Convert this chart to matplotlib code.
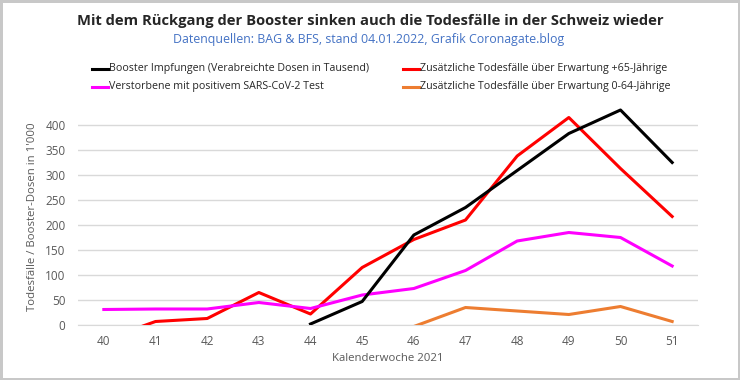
import matplotlib
matplotlib.use('Agg')
import matplotlib.pyplot as plt
import numpy as np

# --- DATA ---
weeks = [40, 41, 42, 43, 44, 45, 46, 47, 48, 49, 50, 51]
booster = [None, None, None, None, 2, 47, 180, 235, 309, 383, 430, 325]
excess_65 = [-30, 7, 13, 65, 22, 115, 171, 210, 338, 415, 313, 217]
covid_deaths = [31, 32, 32, 45, 33, 60, 73, 109, 168, 185, 175, 118]
excess_0_64 = [None, None, None, None, None, None, -3, 35, 28, 21, 37, 7]

labels = [
    "Booster Impfungen (Verabreichte Dosen in Tausend)",
    "Zusätzliche Todesfälle über Erwartung +65-Jährige",
    "Verstorbene mit positivem SARS-CoV-2 Test",
    "Zusätzliche Todesfälle über Erwartung 0-64-Jährige",
]
y_ticks = [0, 50, 100, 150, 200, 250, 300, 350, 400]

# --- THEME ---
plt.rcParams['font.family'] = ['Open Sans', 'DejaVu Sans']
C_GRID = '#D9D9D9'
C_TICK = '#595959'
C_TEXT = '#262626'


def series(vals):
    return np.array([np.nan if v is None else v for v in vals], dtype=float)


fig = plt.figure(figsize=(7.4, 3.8), dpi=100)
fig.patch.set_edgecolor('#C8C8C8')
fig.patch.set_linewidth(2.5)
ax = fig.add_axes([78 / 740, 1 - 325 / 380, 620 / 740, 217.5 / 380])

x = np.array(weeks)
ax.plot(x, series(booster), color='#000000', lw=2.2, zorder=4)
ax.plot(x, series(excess_65), color='#FF0000', lw=2.2, zorder=3)
ax.plot(x, series(covid_deaths), color='#FF00FF', lw=2.2, zorder=3)
ax.plot(x, series(excess_0_64), color='#ED7D31', lw=2.2, zorder=3)

ax.set_xlim(39.5, 51.5)
ax.set_ylim(0, 435)
ax.set_xticks(weeks)
ax.set_yticks(y_ticks)
ax.grid(axis='y', color=C_GRID, lw=1)
ax.set_axisbelow(True)
for s in ['top', 'right', 'left']:
    ax.spines[s].set_visible(False)
ax.spines['bottom'].set_color(C_GRID)
ax.tick_params(axis='both', length=0, colors=C_TICK, labelsize=8.5)
ax.tick_params(axis='x', pad=7)
ax.tick_params(axis='y', pad=9)
ax.set_xlabel('Kalenderwoche 2021', color=C_TICK, fontsize=8.2, labelpad=4)
ax.set_ylabel("Todesfälle / Booster-Dosen in 1'000", color=C_TICK, fontsize=8.2, labelpad=5)

# Title + subtitle
fig.text(370 / 740, 1 - 21 / 380, 'Mit dem Rückgang der Booster sinken auch die Todesfälle in der Schweiz wieder',
         ha='center', va='center', fontsize=10.6, fontweight='bold', color=C_TEXT)
fig.text(369 / 740, 1 - 40 / 380, 'Datenquellen: BAG & BFS, stand 04.01.2022, Grafik Coronagate.blog',
         ha='center', va='center', fontsize=8.9, color='#4472C4')

# Legend drawn manually (two columns)
leg_colors = ['#000000', '#FF0000', '#FF00FF', '#ED7D31']
leg_pos = [(92, 69), (403, 69), (92, 87), (403, 87)]
for (px, py), lab, col in zip(leg_pos, labels, leg_colors):
    fy = 1 - py / 380
    fig.add_artist(plt.Line2D([px / 740, (px + 16) / 740], [fy, fy], color=col, lw=2.2,
                              transform=fig.transFigure))
    fig.text((px + 17) / 740, fy, lab, ha='left', va='center', fontsize=7.7, color=C_TEXT)

plt.savefig('out.png', dpi=100)
